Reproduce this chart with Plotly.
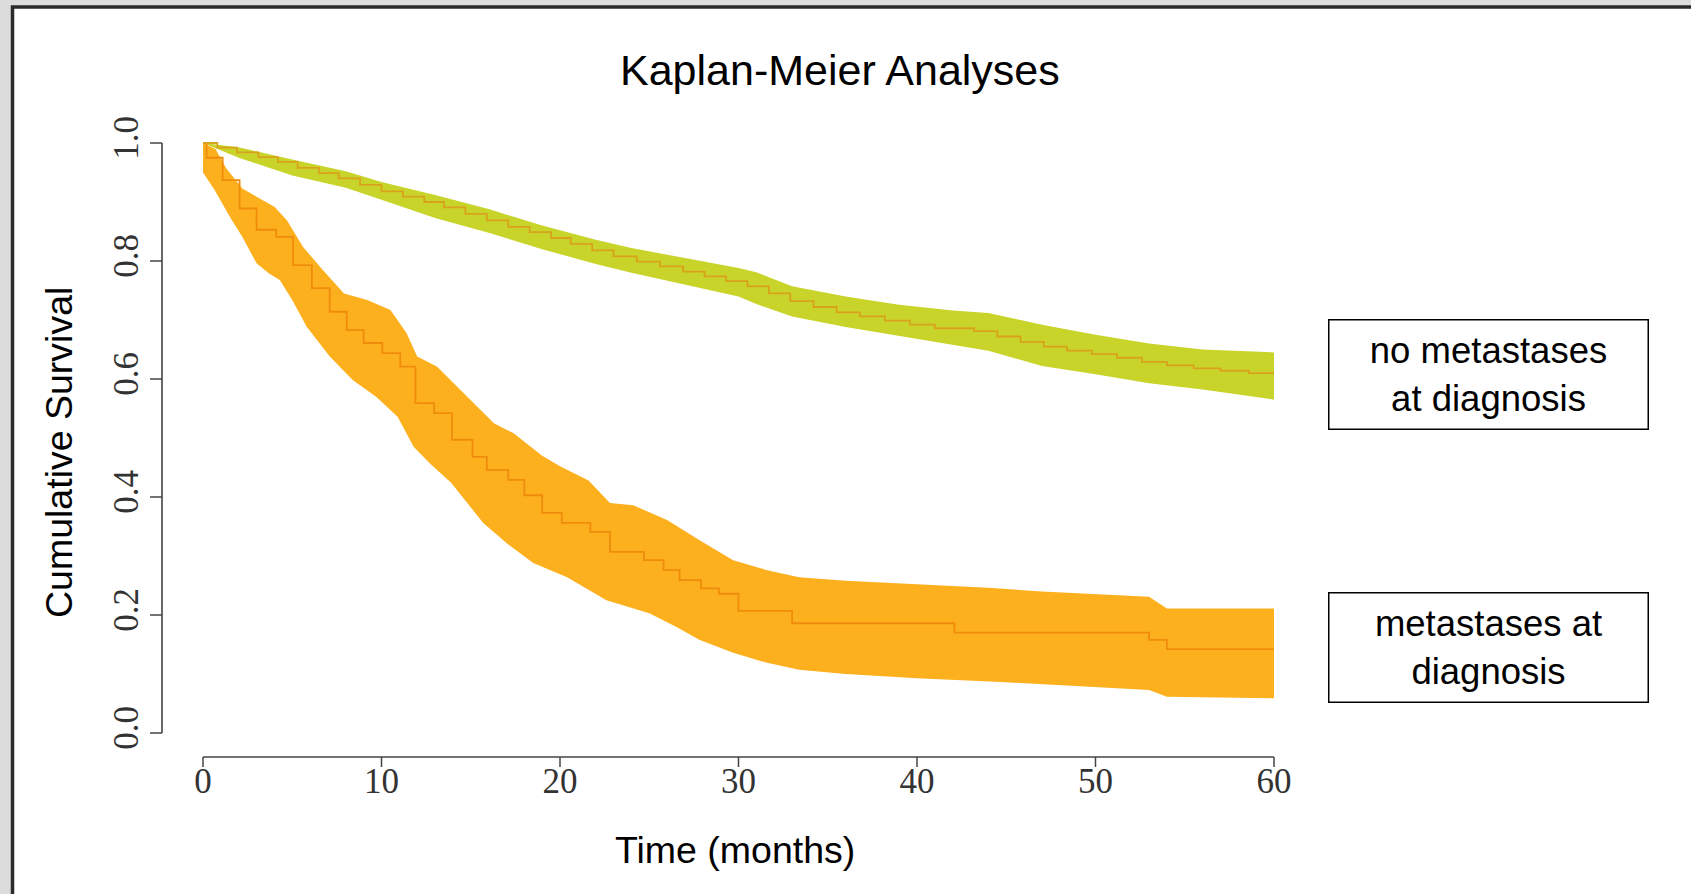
import plotly.graph_objects as go

# ---------------- data ----------------
# metastases at diagnosis : Kaplan-Meier step curve
met_t = [0, 0.2, 1.1, 2.05, 3.0, 4.1, 5.05, 6.1, 7.1, 8.05, 9.0, 10.05, 11.05, 11.9, 12.95,
         13.95, 15.1, 15.9, 17.1, 18.0, 19.0, 20.1, 21.7, 22.8, 24.7, 25.8, 26.7, 27.9, 28.9,
         30.0, 33.0, 42.1, 53.0, 54.0, 60]
met_s = [1.0, 0.975, 0.937, 0.889, 0.853, 0.841, 0.793, 0.754, 0.714, 0.683, 0.661, 0.644, 0.621,
         0.559, 0.542, 0.497, 0.468, 0.446, 0.429, 0.403, 0.373, 0.356, 0.341, 0.307, 0.293, 0.276,
         0.259, 0.245, 0.236, 0.207, 0.186, 0.170, 0.158, 0.142, 0.142]
# confidence band, metastases
met_up_t = [0, 0.7, 1.3, 2.2, 3.0, 4.0, 4.7, 5.6, 6.7, 7.9, 9.2, 10.5, 11.4, 12.0, 13.1, 14.6,
            16.3, 17.4, 19.0, 20.0, 21.6, 22.8, 24.1, 26.0, 27.8, 29.7, 31.6, 33.4, 36, 40, 44,
            47, 50, 53, 54, 60]
met_up = [1.0, 0.99, 0.957, 0.923, 0.909, 0.892, 0.869, 0.824, 0.785, 0.745, 0.734, 0.717, 0.678,
          0.638, 0.621, 0.576, 0.525, 0.508, 0.47, 0.452, 0.428, 0.39, 0.386, 0.361, 0.327, 0.293,
          0.276, 0.264, 0.258, 0.252, 0.246, 0.24, 0.236, 0.231, 0.211, 0.211]
met_lo_t = [0, 0.66, 1.5, 2.2, 3.0, 3.7, 4.3, 5.0, 5.8, 7.1, 8.4, 9.7, 10.9, 11.8, 12.7, 13.9,
            15.7, 17.0, 18.5, 20.4, 22.6, 25.0, 26.5, 27.8, 29.7, 31.6, 33.4, 36, 40, 45, 50,
            53, 54, 60]
met_lo = [0.95, 0.92, 0.875, 0.841, 0.796, 0.779, 0.768, 0.734, 0.689, 0.638, 0.598, 0.57, 0.536,
          0.485, 0.457, 0.424, 0.356, 0.322, 0.288, 0.264, 0.225, 0.203, 0.18, 0.158, 0.136,
          0.119, 0.107, 0.1, 0.093, 0.086, 0.078, 0.073, 0.0615, 0.059]

# no metastases at diagnosis : Kaplan-Meier step curve
nomet_t = [0, 0.8, 1.9, 3.1, 4.2, 5.3, 6.5, 7.6, 8.8, 10.0, 11.2, 12.4, 13.5, 14.7, 15.9, 17.1,
           18.3, 19.5, 20.6, 21.8, 23.0, 24.3, 25.6, 26.9, 28.1, 29.3, 30.5, 31.7, 32.9, 34.2,
           35.5, 36.8, 38.2, 39.6, 41.0, 43.2, 44.5, 45.8, 47.1, 48.4, 49.8, 51.2, 52.6, 54.0,
           55.5, 57.0, 58.6, 60]
nomet_s = [1.0, 0.992, 0.984, 0.976, 0.968, 0.958, 0.949, 0.94, 0.929, 0.918, 0.909, 0.9, 0.891,
           0.88, 0.869, 0.858, 0.849, 0.839, 0.829, 0.818, 0.808, 0.799, 0.791, 0.782, 0.774,
           0.766, 0.757, 0.745, 0.732, 0.722, 0.713, 0.706, 0.699, 0.692, 0.686, 0.681, 0.672,
           0.663, 0.655, 0.648, 0.642, 0.636, 0.629, 0.623, 0.618, 0.614, 0.61, 0.61]
# confidence band, no metastases
nomet_band_t = [0, 2, 5, 8, 10, 13, 16, 19, 22, 24, 27, 30, 31, 33, 36, 39, 42, 44, 47, 50, 53, 56, 60]
nomet_up = [1.0, 0.993, 0.972, 0.952, 0.934, 0.912, 0.888, 0.86, 0.836, 0.822, 0.805, 0.788, 0.781,
            0.757, 0.74, 0.726, 0.716, 0.712, 0.692, 0.675, 0.66, 0.65, 0.645]
nomet_lo = [1.0, 0.975, 0.945, 0.924, 0.904, 0.873, 0.848, 0.82, 0.795, 0.78, 0.76, 0.74, 0.727,
            0.706, 0.688, 0.672, 0.658, 0.648, 0.622, 0.608, 0.593, 0.582, 0.565]

x_ticks = [0, 10, 20, 30, 40, 50, 60]
y_ticks = [0.0, 0.2, 0.4, 0.6, 0.8, 1.0]
y_ticktext = ["0.0", "0.2", "0.4", "0.6", "0.8", "1.0"]

title_text = "Kaplan-Meier Analyses"
x_title = "Time (months)"
y_title = "Cumulative Survival"
label_nomet = "no metastases<br>at diagnosis"
label_met = "metastases at<br>diagnosis"

# ---------------- layout geometry ----------------
W, H = 1691, 894
L, R, T, B = 162, 1691 - 1308, 130, 894 - 757
PW, PH = W - L - R, H - T - B


def px(x):
    return (x - L) / PW


def py(y):
    return (H - B - y) / PH


ORANGE_BAND = "#fdb01e"
ORANGE_LINE = "#f08c0c"
GREEN_BAND = "#c8d42a"
GREEN_LINE = "#d9a21c"
AXIS = "#444444"
SERIF = "Liberation Serif, Times New Roman, serif"
SANS = "Liberation Sans, Arial, sans-serif"

fig = go.Figure()

# bands
fig.add_trace(go.Scatter(
    x=met_up_t + met_lo_t[::-1], y=met_up + met_lo[::-1],
    fill="toself", fillcolor=ORANGE_BAND, line=dict(width=0, color=ORANGE_BAND),
    mode="lines", hoverinfo="skip", showlegend=False))
fig.add_trace(go.Scatter(
    x=nomet_band_t + nomet_band_t[::-1], y=nomet_up + nomet_lo[::-1],
    fill="toself", fillcolor=GREEN_BAND, line=dict(width=0, color=GREEN_BAND),
    mode="lines", hoverinfo="skip", showlegend=False))
# KM step lines
fig.add_trace(go.Scatter(x=met_t, y=met_s, mode="lines", line=dict(shape="hv", color=ORANGE_LINE, width=1.8),
                         name="metastases at diagnosis", showlegend=False))
fig.add_trace(go.Scatter(x=nomet_t, y=nomet_s, mode="lines", line=dict(shape="hv", color=GREEN_LINE, width=1.8),
                         name="no metastases at diagnosis", showlegend=False))

shapes = [
    # white frame with dark border (image is cropped at right/bottom)
    dict(type="rect", xref="paper", yref="paper", x0=px(12.5), y0=py(7), x1=px(W + 40), y1=py(H + 40),
         fillcolor="white", line=dict(color="#2b2b2b", width=3.5), layer="below"),
    # R-style axis lines, spanning only the tick range
    dict(type="line", xref="x", yref="paper", x0=x_ticks[0], x1=x_ticks[-1], y0=0, y1=0,
         line=dict(color=AXIS, width=1.6)),
    dict(type="line", xref="paper", yref="y", x0=0, x1=0, y0=y_ticks[0], y1=y_ticks[-1],
         line=dict(color=AXIS, width=1.6)),
]
# tick marks (outward, R style)
for xv in x_ticks:
    shapes.append(dict(type="line", xref="x", yref="paper", x0=xv, x1=xv, y0=0, y1=-10 / PH,
                       line=dict(color=AXIS, width=1.5)))
for yv in y_ticks:
    shapes.append(dict(type="line", xref="paper", yref="y", x0=0, x1=-12 / PW, y0=yv, y1=yv,
                       line=dict(color=AXIS, width=1.5)))

annotations = [
    dict(text=x_title, x=px(735), y=py(850), xref="paper", yref="paper", showarrow=False,
         xanchor="center", yanchor="middle", font=dict(family=SANS, size=37.5, color="black")),
    dict(text=y_title, x=px(59), y=py(453), xref="paper", yref="paper", showarrow=False, textangle=-90,
         xanchor="center", yanchor="middle", font=dict(family=SANS, size=37.5, color="black")),
    dict(text=title_text, x=px(840), y=py(70), xref="paper", yref="paper", showarrow=False,
         xanchor="center", yanchor="middle", font=dict(family=SANS, size=43, color="black")),
    dict(text=label_nomet, x=px(1488), y=py(374), xref="paper", yref="paper", showarrow=False,
         xanchor="center", yanchor="middle", width=318, height=108, align="center", valign="middle",
         bordercolor="black", borderwidth=1.5, borderpad=0, bgcolor="white",
         font=dict(family=SANS, size=36.5, color="black")),
    dict(text=label_met, x=px(1488), y=py(647.5), xref="paper", yref="paper", showarrow=False,
         xanchor="center", yanchor="middle", width=318, height=108, align="center", valign="middle",
         bordercolor="black", borderwidth=1.5, borderpad=0, bgcolor="white",
         font=dict(family=SANS, size=36.5, color="black")),
]

x_per = (1274 - 203) / 60.0
y_per = (733 - 143) / 1.0

fig.update_layout(
    width=W, height=H,
    margin=dict(l=L, r=R, t=T, b=B, pad=0),
    paper_bgcolor="#dcdcdc",
    plot_bgcolor="rgba(0,0,0,0)",
    showlegend=False,
    shapes=shapes,
    annotations=annotations,
    xaxis=dict(range=[(L - 203) / x_per, (W - R - 203) / x_per], tickvals=x_ticks,
               ticks="", showline=False, showgrid=False, zeroline=False,
               tickfont=dict(family=SERIF, size=35, color="#333333")),
    yaxis=dict(range=[(733 - (H - B)) / y_per, (733 - T) / y_per], tickvals=y_ticks, ticktext=y_ticktext,
               tickangle=-90, ticks="outside", ticklen=9, tickcolor="rgba(0,0,0,0)",
               showline=False, showgrid=False, zeroline=False,
               tickfont=dict(family=SERIF, size=35, color="#333333")),
)

fig.write_html("out.html", config={"displayModeBar": False},
               post_script="document.body.style.margin='0';document.body.style.background='#dcdcdc';")
